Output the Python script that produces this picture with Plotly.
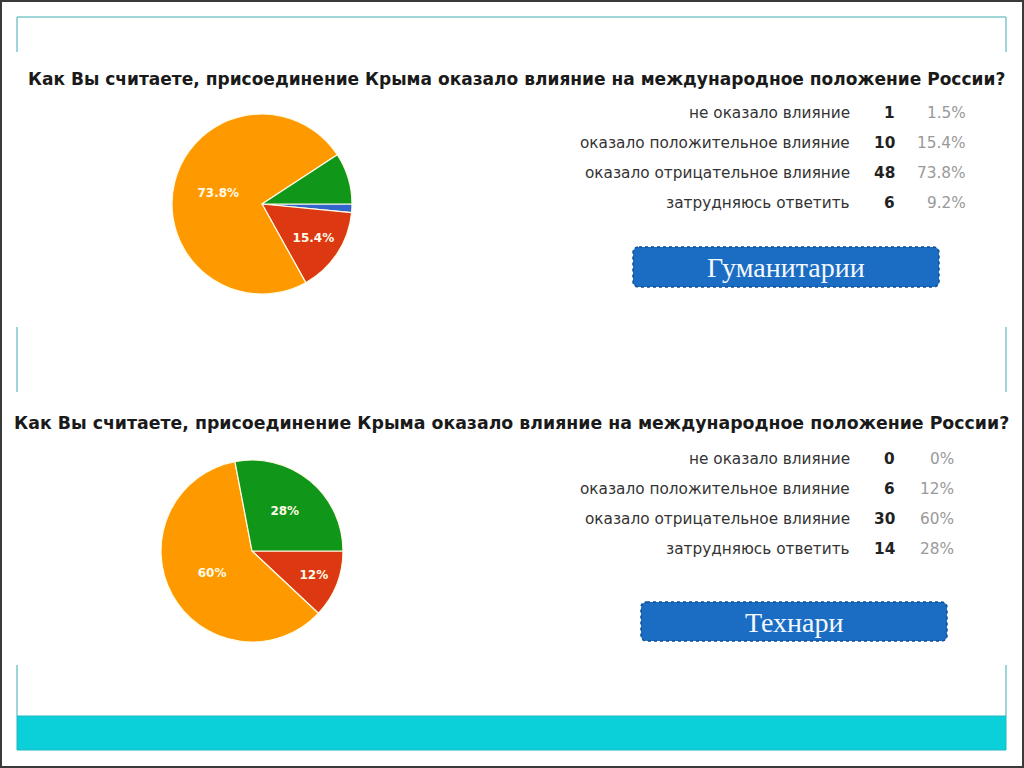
import plotly.graph_objects as go

# ---------------- data ----------------
question = "Как Вы считаете, присоединение Крыма оказало влияние на международное положение России?"
categories = ["не оказало влияние", "оказало положительное влияние",
              "оказало отрицательное влияние", "затрудняюсь ответить"]
counts_hum = [1, 10, 48, 6]     # Гуманитарии
counts_tech = [0, 6, 30, 14]    # Технари
group_names = ["Гуманитарии", "Технари"]
slice_colors = ["#3366cc", "#dc3912", "#ff9900", "#109618"]

W, H = 1024, 768


def fx(x):
    return x / W


def fy(y):
    return 1 - y / H


def fmt_pct(c, tot):
    v = round(100.0 * c / tot, 1)
    s = f"{v:.1f}"
    if s.endswith(".0"):
        s = s[:-2]
    return s + "%"


def pct_list(counts):
    tot = sum(counts)
    return [fmt_pct(c, tot) for c in counts]


fig = go.Figure()

# pie geometry (pixels): center x, center y, radius
pies = [
    dict(counts=counts_hum, cx=262, cy=204, r=90),
    dict(counts=counts_tech, cx=252, cy=551, r=91),
]
for p in pies:
    tot = sum(p["counts"])
    texts = [fmt_pct(c, tot) if c / tot >= 0.10 else "" for c in p["counts"]]
    fig.add_trace(go.Pie(
        labels=categories, values=p["counts"], text=texts,
        textinfo="text", texttemplate="%{text}",
        textposition="inside", insidetextorientation="horizontal",
        textfont=dict(family="DejaVu Sans", size=12, color="#fffbe8", weight="bold"),
        sort=False, direction="clockwise", rotation=90,
        marker=dict(colors=slice_colors, line=dict(color="#fffbe6", width=1.2)),
        domain=dict(x=[fx(p["cx"] - p["r"]), fx(p["cx"] + p["r"])],
                    y=[fy(p["cy"] + p["r"]), fy(p["cy"] - p["r"])]),
        showlegend=False, hoverinfo="label+value+percent",
    ))

annotations = []
# titles
for (cx, cy, size) in [(516, 79, 17.05), (511, 423, 17.35)]:
    annotations.append(dict(
        x=fx(cx), y=fy(cy), xref="paper", yref="paper", showarrow=False,
        xanchor="center", yanchor="middle", text="<b>" + question + "</b>",
        font=dict(family="DejaVu Sans", size=size, color="#1a1a1a")))

# tables
tables = [
    dict(counts=counts_hum, y0=113, pct_right=968),
    dict(counts=counts_tech, y0=459, pct_right=956),
]
for t in tables:
    pcts = pct_list(t["counts"])
    for i, cat in enumerate(categories):
        y = t["y0"] + 30 * i
        annotations.append(dict(
            x=fx(852), y=fy(y), xref="paper", yref="paper", showarrow=False,
            xanchor="right", yanchor="middle", text=cat,
            font=dict(family="DejaVu Sans", size=15.3, color="#333333")))
        annotations.append(dict(
            x=fx(897), y=fy(y), xref="paper", yref="paper", showarrow=False,
            xanchor="right", yanchor="middle", text="<b>" + str(t["counts"][i]) + "</b>",
            font=dict(family="DejaVu Sans", size=15.3, color="#222222")))
        annotations.append(dict(
            x=fx(t["pct_right"]), y=fy(y), xref="paper", yref="paper", showarrow=False,
            xanchor="right", yanchor="middle", text=pcts[i],
            font=dict(family="DejaVu Sans", size=15.3, color="#999999")))

shapes = []


def rounded_rect(x0, y0, x1, y1, r):
    pts = [
        f"M {fx(x0 + r)},{fy(y0)}",
        f"L {fx(x1 - r)},{fy(y0)}",
        f"Q {fx(x1)},{fy(y0)} {fx(x1)},{fy(y0 + r)}",
        f"L {fx(x1)},{fy(y1 - r)}",
        f"Q {fx(x1)},{fy(y1)} {fx(x1 - r)},{fy(y1)}",
        f"L {fx(x0 + r)},{fy(y1)}",
        f"Q {fx(x0)},{fy(y1)} {fx(x0)},{fy(y1 - r)}",
        f"L {fx(x0)},{fy(y0 + r)}",
        f"Q {fx(x0)},{fy(y0)} {fx(x0 + r)},{fy(y0)}",
        "Z",
    ]
    return " ".join(pts)


# buttons
buttons = [(633, 247, 939, 287), (641, 602, 947, 641)]
for (x0, y0, x1, y1), name in zip(buttons, group_names):
    shapes.append(dict(type="path", xref="paper", yref="paper",
                       path=rounded_rect(x0, y0, x1, y1, 6),
                       fillcolor="#1b6dc4",
                       line=dict(color="#0e4d95", width=1.5, dash="dot")))
    annotations.append(dict(
        x=fx((x0 + x1) / 2), y=fy((y0 + y1) / 2 + 1), xref="paper", yref="paper",
        showarrow=False, xanchor="center", yanchor="middle", text=name,
        font=dict(family="Liberation Serif", size=28, color="#f4f8ff")))

teal = "#7cc9cd"
# decorative frame lines
shapes.append(dict(type="line", xref="paper", yref="paper",
                   x0=fx(17), x1=fx(1006), y0=fy(17), y1=fy(17),
                   line=dict(color=teal, width=1.5)))
for xv in (17, 1006):
    for (ya, yb) in [(17, 52), (327, 392), (665, 716)]:
        shapes.append(dict(type="line", xref="paper", yref="paper",
                           x0=fx(xv), x1=fx(xv), y0=fy(ya), y1=fy(yb),
                           line=dict(color=teal, width=1.5)))
# cyan bar
shapes.append(dict(type="rect", xref="paper", yref="paper",
                   x0=fx(17), x1=fx(1006), y0=fy(750), y1=fy(716),
                   fillcolor="#0bcfd9", line=dict(color="#22b8c0", width=1)))
# outer border
shapes.append(dict(type="rect", xref="paper", yref="paper",
                   x0=fx(1), x1=fx(1023), y0=fy(767), y1=fy(1),
                   fillcolor="rgba(0,0,0,0)", line=dict(color="#3a3a3a", width=2)))

fig.update_layout(
    width=W, height=H, margin=dict(l=0, r=0, t=0, b=0),
    paper_bgcolor="white", plot_bgcolor="white",
    shapes=shapes, annotations=annotations,
)

fig.write_html("out.html",
               config={"displayModeBar": False},
               post_script="document.body.style.margin='0px';"
                           "document.body.style.overflow='hidden';")
